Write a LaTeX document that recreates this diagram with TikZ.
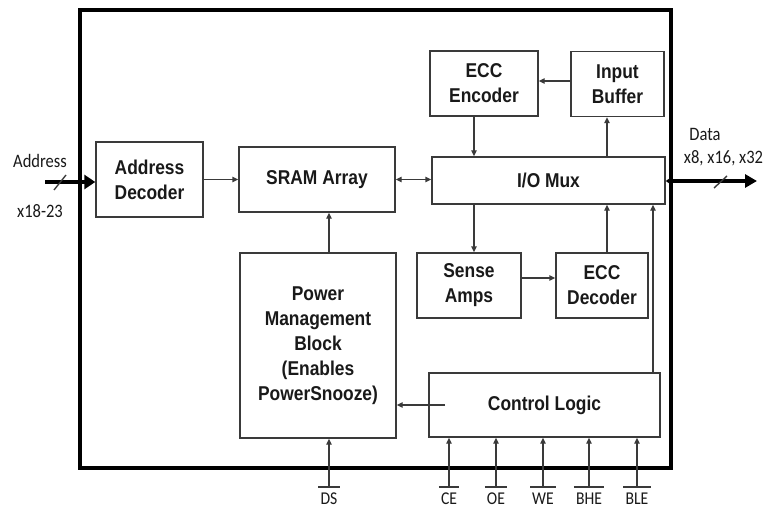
\documentclass[tikz,border=0pt]{standalone}
\usepackage{fontspec}
\setmainfont{Liberation Sans}
\newfontfamily\boxfont[FakeStretch=0.87]{Liberation Sans}
\newfontfamily\lblfont[FakeStretch=0.87]{Carlito}
\usetikzlibrary{arrows.meta}
\definecolor{ln}{HTML}{3A3A3A}
\begin{document}
\begin{tikzpicture}[x=1pt,y=-1pt,
  blk/.style={draw=ln, line width=1.4pt, inner sep=2pt, align=center,
    font=\boxfont\bfseries\fontsize{20}{25}\selectfont, text=black!90},
  con/.style={draw=ln, line width=1.4pt, -{Triangle[length=6pt,width=5.5pt]}},
  plain/.style={draw=ln, line width=1.4pt},
  lbl/.style={font=\lblfont\fontsize{19}{22}\selectfont, inner sep=1.5pt, text=black!90},
  sig/.style={font=\lblfont\fontsize{18}{22}\selectfont, inner xsep=2pt, inner ysep=0pt, text=black!90},
  thickar/.style={draw=black, line width=4pt}]
\useasboundingbox (0,0) rectangle (766,508);
% outer chip boundary
\draw[line width=3.5pt] (80,10) rectangle (671,468);
% blocks
\node[blk, minimum width=107pt, minimum height=75pt] (ad) at (149.5,179.5) {Address\\Decoder};
\node[blk, minimum width=156pt, minimum height=65pt] (sram) at (317,179.5) {SRAM Array};
\node[blk, minimum width=233pt, minimum height=47pt] (io) at (548.5,180.5) {I/O Mux};
\node[blk, minimum width=108pt, minimum height=65pt] (enc) at (484,83.5) {ECC\\Encoder};
\node[blk, minimum width=93pt, minimum height=65pt] (ib) at (617.5,84) {Input\\Buffer};
\node[blk, minimum width=104pt, minimum height=65pt] (sa) at (469,285.5) {Sense\\Amps};
\node[blk, minimum width=92pt, minimum height=65pt] (ed) at (602,285.5) {ECC\\Decoder};
\node[blk, minimum width=156pt, minimum height=185pt] (pmb) at (318,345.5) {Power\\Management\\Block\\(Enables\\PowerSnooze)};
\node[blk, minimum width=231pt, minimum height=64pt] (cl) at (544.5,405) {Control Logic};
% helper coordinates
\coordinate (c474) at (474,0);
\coordinate (c607) at (607,0);
\coordinate (c653) at (653,0);
\coordinate (c329) at (329,0);
\coordinate (r81) at (0,81);
\coordinate (r278) at (0,278);
\coordinate (r487) at (0,487);
\coordinate (cli) at (445,405);
% connectors
\draw[con] (ad) -- (sram);
\draw[con, {Triangle[length=6pt,width=5.5pt]}-{Triangle[length=6pt,width=5.5pt]}] (sram.east) -- (sram.east -| io.west);
\draw[con] (ib.west |- r81) -- (enc.east |- r81);
\draw[con] (c474 |- enc.south) -- (c474 |- io.north);
\draw[con] (c607 |- io.north) -- (c607 |- ib.south);
\draw[con] (c474 |- io.south) -- (c474 |- sa.north);
\draw[con] (sa.east |- r278) -- (ed.west |- r278);
\draw[con] (c607 |- ed.north) -- (c607 |- io.south);
\draw[con] (c653 |- cl.north) -- (c653 |- io.south);
\draw[con] (cli) -- (cli -| pmb.east);
\draw[con] (c329 |- pmb.north) -- (c329 |- sram.south);
% address bus
\coordinate (ain) at (45,182);
\draw[thickar, -{Triangle[length=11pt,width=14pt]}] (ain) -- (ain -| ad.west);
\draw[plain] (54,190) -- (66,175);
\node[lbl] (addr) at (40,161) {Address};
\node[lbl] (xa) at (40,211) {x18-23};
% data bus
\coordinate (dout) at (757,181);
\draw[thickar, {Triangle[length=7pt,width=9pt]}-{Triangle[length=12pt,width=13pt]}] (io.east |- dout) -- (dout);
\draw[plain] (714,188) -- (727,176);
\node[lbl] (data) at (705,134) {Data};
\node[lbl] (xd) at (723.5,158) {x8, x16, x32};
% control inputs
\node[sig] (ds) at (329,499) {DS};
\draw[plain] (ds.west |- r487) -- (ds.east |- r487);
\draw[con] (ds |- r487) -- (ds |- pmb.south);
\foreach \x/\t/\n in {449/CE/ce, 496/OE/oe, 543/WE/we, 589/BHE/bhe, 637/BLE/ble}{
  \node[sig] (\n) at (\x,499) {\t};
  \draw[plain] (\n.west |- r487) -- (\n.east |- r487);
  \draw[con] (\n |- r487) -- (\n |- cl.south);
}
\end{tikzpicture}
\end{document}
